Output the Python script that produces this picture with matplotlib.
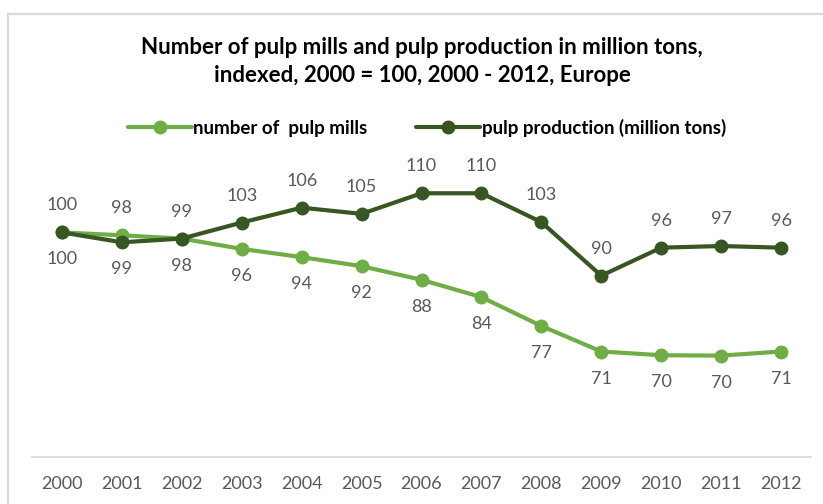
import matplotlib
matplotlib.use("Agg")
import matplotlib.pyplot as plt
from matplotlib.lines import Line2D

plt.rcParams['font.family'] = ['Lato', 'DejaVu Sans']

years = ['2000', '2001', '2002', '2003', '2004', '2005', '2006',
         '2007', '2008', '2009', '2010', '2011', '2012']
mills = [100, 99.3, 98.5, 96.0, 94.0, 91.8, 88.5, 84.3, 77.3, 71.1, 70.2, 70.1, 71.1]
production = [100, 97.6, 98.5, 102.4, 106.0, 104.5, 109.5, 109.5, 102.5, 89.5, 96.3, 96.7, 96.3]
mills_labels = ['100', '98', '98', '96', '94', '92', '88', '84', '77', '71', '70', '70', '71']
production_labels = ['100', '99', '99', '103', '106', '105', '110', '110', '103', '90', '96', '97', '96']
mills_label_pos = ['below', 'above'] + ['below'] * 11
production_label_pos = ['above', 'below'] + ['above'] * 11

light = '#70AD47'
dark = '#375623'
gray = '#595959'

fig = plt.figure(figsize=(8.23, 5.04), dpi=100)
# chart border (light gray)
fig.add_artist(Line2D([8 / 823, 8 / 823], [0, 1 - 14 / 504], color='#D9D9D9', lw=1.6))
fig.add_artist(Line2D([8 / 823, 1], [1 - 14 / 504, 1 - 14 / 504], color='#D9D9D9', lw=1.6))

ax = fig.add_axes([32 / 823, 1 - 457 / 504, (811 - 32) / 823, (457 - 150) / 504])
x = list(range(len(years)))
ax.plot(x, mills, color=light, lw=3, marker='o', ms=9, zorder=3,
        label='number of  pulp mills', solid_capstyle='round')
ax.plot(x, production, color=dark, lw=3, marker='o', ms=9, zorder=4,
        label='pulp production (million tons)', solid_capstyle='round')

off = 27
for xi, v, lab, pos in zip(x, mills, mills_labels, mills_label_pos):
    ax.annotate(lab, (xi, v), xytext=(0, -off if pos == 'below' else off),
                textcoords='offset pixels', ha='center', va='center',
                fontsize=13, color=gray)
for xi, v, lab, pos in zip(x, production, production_labels, production_label_pos):
    ax.annotate(lab, (xi, v), xytext=(0, -off if pos == 'below' else off),
                textcoords='offset pixels', ha='center', va='center',
                fontsize=13, color=gray)

ax.set_xlim(-0.5, len(years) - 0.5)
ax.set_ylim(45.5, 120)
ax.set_xticks(x)
ax.set_xticklabels(years, fontsize=13, color=gray)
ax.tick_params(axis='x', length=0, pad=14)
ax.set_yticks([])
for s in ['top', 'right', 'left']:
    ax.spines[s].set_visible(False)
ax.spines['bottom'].set_color('#D9D9D9')
ax.spines['bottom'].set_linewidth(1.2)

fig.text(422 / 823, 1 - 47 / 504, 'Number of pulp mills and pulp production in million tons,',
         ha='center', va='center', fontsize=16, fontweight='bold', color='black')
fig.text(422 / 823, 1 - 76 / 504, 'indexed, 2000 = 100, 2000 - 2012, Europe',
         ha='center', va='center', fontsize=16, fontweight='bold', color='black')

leg = fig.legend(loc='center', bbox_to_anchor=(427 / 823, 1 - 128 / 504), ncol=2,
                 frameon=False, fontsize=13.5, handlelength=3.4, columnspacing=2.6,
                 handletextpad=0.1)
for t in leg.get_texts():
    t.set_fontweight('bold')

fig.savefig('out.png', dpi=100)
